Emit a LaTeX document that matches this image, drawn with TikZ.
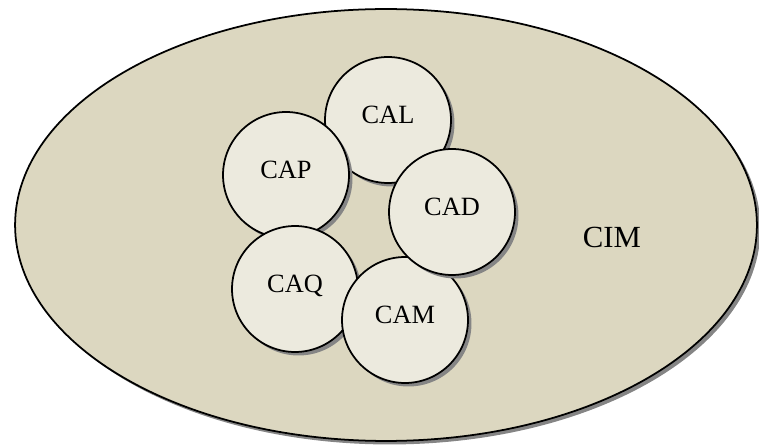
\documentclass[tikz,border=0pt]{standalone}
\usepackage{fontspec}
\setmainfont{Liberation Serif}
\usetikzlibrary{shapes.geometric,shadows}

\definecolor{cimfill}{RGB}{220,215,192}
\definecolor{cafill}{RGB}{236,234,222}

\begin{document}
\begin{tikzpicture}[
  x=0.02cm, y=-0.02cm,
  cim/.style={ellipse, draw, line width=1pt, fill=cimfill, minimum width=14.84cm, minimum height=8.64cm, inner sep=0pt,
    drop shadow={shadow xshift=0.07cm, shadow yshift=-0.07cm, opacity=1, fill=black!48}},
  cabox/.style={circle, draw, line width=1pt, fill=cafill, minimum size=2.52cm, inner sep=0pt,
    text height=0.35cm, text depth=0.2cm, font=\fontsize{15}{18}\selectfont,
    drop shadow={shadow xshift=0.07cm, shadow yshift=-0.07cm, opacity=1, fill=black!48}},
  cimlabel/.style={inner sep=0pt, font=\fontsize{17.5}{21}\selectfont}
]
\useasboundingbox (0,0) rectangle (759,445);

\node[cim] (outer) at (386,225) {};
\node[cimlabel] (cimtext) at (612,237) {CIM};

\node[cabox] (cal) at (388,120) {CAL};
\node[cabox] (cap) at (286,175) {CAP};
\node[cabox] (caq) at (295,289) {CAQ};
\node[cabox] (cam) at (405,320) {CAM};
\node[cabox] (cad) at (452,212) {CAD};
\end{tikzpicture}
\end{document}
